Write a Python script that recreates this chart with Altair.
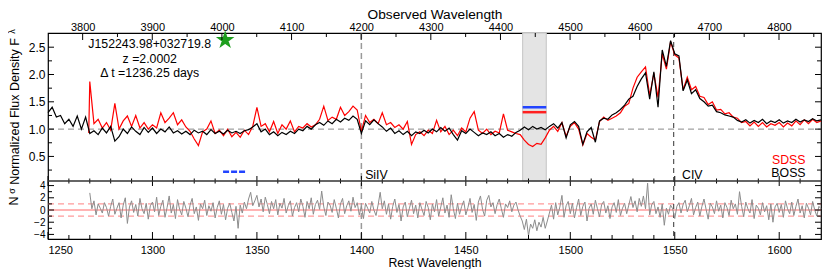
import altair as alt
import numpy as np
import pandas as pd

# ---------------- data ----------------
Z = 2.0002
REST_LO, REST_HI = 1250, 1620
W, H, TOP_H = 773, 206, 148

lam_boss = np.arange(1250, 1621, 2)
flux_boss = [
    1.30, 1.40, 1.22, 1.25, 1.10, 1.18, 1.05, 1.24, 1.00, 1.22,
    0.92, 0.97, 0.90, 1.02, 0.93, 1.05, 0.78, 0.86, 1.00, 0.92,
    1.04, 0.96, 0.90, 1.03, 0.94, 1.02, 0.92, 1.00, 0.95, 1.04,
    0.93, 0.97, 0.91, 0.96, 0.90, 0.98, 0.93, 0.96, 0.90, 0.99,
    0.92, 0.96, 0.91, 0.98, 0.93, 0.96, 0.92, 0.97, 0.99, 1.04,
    1.10, 0.95, 1.00, 0.90, 0.95, 0.88, 0.94, 0.90, 0.96, 0.92,
    1.00, 0.97, 1.05, 1.00, 1.08, 1.12, 1.07, 1.15, 1.10, 1.18,
    1.13, 1.20, 1.16, 1.24, 1.18, 0.92, 1.15, 1.08, 1.17, 1.10,
    1.04, 0.96, 1.02, 0.92, 0.97, 0.90, 0.96, 0.88, 0.95, 0.92,
    0.98, 0.93, 1.00, 0.95, 1.03, 0.96, 1.02, 0.90, 0.80, 0.97,
    0.92, 1.00, 0.94, 0.88, 0.93, 0.90, 0.95, 0.88, 0.92, 0.85,
    0.90, 0.87, 0.94, 0.98, 1.04, 0.99, 1.05, 1.00, 1.03, 0.99,
    1.05, 1.10, 1.02, 1.12, 0.84, 1.08, 1.14, 1.05, 0.72, 0.95,
    1.03, 0.76, 1.15, 1.20, 1.18, 1.26, 1.30, 1.36, 1.44, 1.55,
    1.60, 1.78, 1.92, 2.03, 1.55, 2.05, 1.40, 2.45, 2.15, 2.62,
    2.38, 2.34, 1.70, 1.90, 1.65, 1.72, 1.56, 1.50, 1.42, 1.44,
    1.32, 1.30, 1.26, 1.24, 1.22, 1.16, 1.13, 1.17, 1.11, 1.16,
    1.12, 1.18, 1.10, 1.15, 1.12, 1.17, 1.11, 1.15, 1.12, 1.18,
    1.13, 1.17, 1.14, 1.19, 1.15, 1.17,
]

lam_sdss = [1269.5] + list(np.arange(1270, 1621, 2))
flux_sdss = [
    0.93,
    1.87, 1.10, 1.18, 1.02, 1.12, 0.98, 1.47, 1.00, 1.15, 1.24,
    1.05, 1.25, 1.02, 1.12, 1.00, 1.08, 1.02, 1.30, 1.12, 1.20,
    1.30, 1.08, 1.17, 1.04, 0.96, 0.82, 0.70, 0.95, 1.00, 1.15,
    0.92, 0.98, 0.88, 1.00, 0.86, 0.94, 0.85, 0.98, 0.90, 1.05,
    1.40, 1.05, 1.10, 0.95, 1.14, 0.92, 1.08, 1.00, 1.15, 0.95,
    1.05, 1.02, 1.10, 1.04, 1.08, 1.18, 1.42, 1.16, 1.22, 1.18,
    1.40, 1.25, 1.32, 1.42, 1.35, 0.96, 1.25, 1.12, 1.18, 1.10,
    1.30, 1.08, 1.12, 1.03, 1.08, 1.00, 1.14, 0.72, 0.90, 0.95,
    0.88, 0.98, 0.92, 1.16, 0.95, 1.05, 0.90, 0.98, 0.88, 1.02,
    0.95, 1.20, 1.32, 0.98, 0.92, 1.00, 0.90, 0.96, 0.93, 1.28,
    0.98, 0.95, 0.92, 0.90, 0.80, 0.72, 0.68, 0.74, 0.72, 0.84,
    0.98, 1.05, 0.96, 1.12, 0.87, 1.05, 1.12, 1.00, 0.71, 0.92,
    0.85, 0.80, 1.14, 1.22, 1.16, 1.20, 1.24, 1.30, 1.42, 1.47,
    1.75, 1.95, 2.05, 2.14, 1.62, 2.02, 1.58, 2.38, 2.10, 2.60,
    2.36, 2.30, 1.72, 1.95, 1.72, 1.78, 1.60, 1.58, 1.45, 1.50,
    1.35, 1.36, 1.28, 1.30, 1.22, 1.20, 1.12, 1.14, 1.06, 1.13,
    1.05, 1.12, 1.04, 1.10, 1.07, 1.12, 1.04, 1.11, 1.06, 1.15,
    1.08, 1.17, 1.10, 1.18, 1.12, 1.15,
]

lam_resid = np.arange(1270, 1621, 1)
n_sigma = [
    2.8, 0.2, 1.5, -0.8, 1.0, 0.3, -0.5, 1.2, 0.4, -1.0,
    0.6, 1.8, -0.7, 0.3, 1.2, -1.3, 0.8, 2.0, -2.2, 0.5,
    1.5, -0.4, 0.9, -1.0, 1.9, 0.2, -0.6, 1.1, -1.5, 0.7,
    1.3, -0.3, 2.1, -0.9, 0.6, 1.6, -1.2, 0.4, 2.3, -0.5,
    0.9, -1.4, 1.7, 0.1, -0.8, 1.4, 0.3, -1.1, 0.8, 1.9,
    -0.6, 0.5, -1.7, 1.0, 0.2, 1.6, -0.9, 0.7, -0.2, 1.2,
    -1.3, 0.4, 1.5, -0.7, 0.9, -1.6, 0.3, 1.1, -0.4, -1.8,
    0.6, -3.0, 0.8, -0.5, 1.3, 0.2, 1.8, 2.9, 0.7, 1.5,
    2.4, 0.5, 1.8, -0.3, 2.1, 0.9, -0.6, 1.4, 0.2, 1.7,
    -0.8, 1.1, 0.3, 1.9, -0.5, 0.7, 1.5, -1.0, 0.4, 1.2,
    -0.3, 1.8, 0.6, -1.2, 1.4, 0.2, 2.0, -0.7, 0.9, 1.6,
    0.1, 3.1, 0.5, -0.9, 1.3, 0.8, -0.4, 1.7, 0.3, -1.3,
    1.0, 1.9, -0.6, 0.7, 1.5, -0.2, 2.1, 0.4, 1.2, -0.8,
    0.6, -1.4, 1.1, 0.3, -0.5, 1.4, 0.0, -0.9, 0.8, 2.9,
    0.2, 1.5, -0.7, 1.0, -1.5, 0.6, 1.8, -0.4, 0.9, -1.8,
    0.5, 1.3, -1.1, 0.3, 1.6, -0.6, 0.8, -1.3, 1.2, 0.1,
    -0.9, 1.4, 0.4, -1.6, 1.0, -0.3, 1.7, -1.0, 0.5, 2.0,
    -0.5, 0.8, -1.2, 2.5, 0.2, -1.4, 1.1, -0.7, 0.6, 1.5,
    -0.8, 0.4, 1.9, -0.4, 0.9, -1.7, 1.3, 2.3, 0.1, -1.0,
    1.6, 2.4, 0.5, 1.2, -0.6, 0.9, 1.8, 0.2, -1.2, 1.0,
    0.4, 1.5, -0.3, 0.8, 1.3, 0.0, -1.0, -1.8, -3.2, -1.5,
    -4.2, -2.3, -3.0, -1.6, -3.4, -2.0, -2.8, -1.2, -3.0, -1.8,
    -0.5, 0.8, -1.5, 1.2, -0.8, 0.5, 2.4, -1.2, 0.7, 1.4,
    -0.6, 1.1, -1.3, 0.4, 1.8, -0.9, 0.6, 1.3, -1.8, 0.3,
    1.0, -0.7, 1.6, 0.2, -1.1, 0.9, 1.4, -0.5, 0.7, -1.4,
    0.5, 1.2, -0.4, 1.7, -0.9, 0.3, 1.1, -0.6, 0.8, 2.2,
    0.4, 1.5, -0.3, 1.9, 0.6, 2.3, 0.2, 4.4, -0.8, 0.9,
    1.4, -0.6, 0.5, -1.2, 1.0, -2.5, 0.3, -0.7, 0.8, 0.2,
    -1.4, 0.6, 1.2, -0.5, 0.9, 1.6, -0.3, 0.7, 1.9, -0.8,
    0.4, 1.3, -1.0, 0.6, 1.8, 0.1, -1.5, 1.1, 0.5, -0.6,
    1.5, -0.2, 0.8, -1.3, 1.2, 0.4, -0.9, 1.6, 0.2, 1.0,
    -0.7, 3.0, 0.6, -1.1, 1.3, 0.2, -0.5, 1.7, -1.4, 0.8,
    0.3, -0.8, 1.2, -0.3, 0.7, -1.6, 1.0, -2.0, 0.5, 1.1,
    -0.4, 0.9, -1.2, 1.5, 0.2, -0.6, 1.3, -0.9, 0.6, 1.8,
    -0.5, 0.7, -1.3, 1.1, 0.3, -0.8, 1.4, 0.0, -1.0, 0.6,
    0.2,
]

band = [1477.2, 1488.5]
band_levels = [1.40, 1.31]          # blue, red bars
line_rest = [1400.0, 1549.5]        # SiIV, CIV
star_pos = [1334.8, 2.63]
blue_dash = [1333.8, 1344.4, 0.22]

info_text = ["J152243.98+032719.8", "z =2.0002", "\u0394 t =1236.25 days"]
info_lam = [1298.7, 1298.7, 1298.7]
info_f = [2.478, 2.203, 1.958]

rest_ticks = list(range(1250, 1601, 50))
rest_minor = [v for v in range(1260, 1620, 10) if v % 50]
obs_ticks = list(range(3800, 4801, 100))
obs_minor = list(range(3850, 4851, 100))
f_ticks = [0.5, 1.0, 1.5, 2.0, 2.5]
f_minor = [0.25, 0.75, 1.25, 1.75, 2.25]
n_ticks = [-4, -2, 0, 2, 4]
n_minor = [-3, -1, 1, 3]

# ---------------- scales ----------------
XS = alt.Scale(domain=[REST_LO, REST_HI], nice=False, zero=False)
XO = alt.Scale(domain=[REST_LO * (1 + Z), REST_HI * (1 + Z)], nice=False, zero=False)
YF = alt.Scale(domain=[0.05, 2.76], range=[TOP_H, 0], nice=False, zero=False)
YN = alt.Scale(domain=[-4.75, 4.75], range=[H, TOP_H], nice=False, zero=False)

FONT = "Liberation Sans"


def X(f, axis=None, scale=XS):
    return alt.X(f, type="quantitative", scale=scale, axis=axis)


def YFf(f, axis=None):
    return alt.Y(f, type="quantitative", scale=YF, axis=axis)


def YNf(f, axis=None):
    return alt.Y(f, type="quantitative", scale=YN, axis=axis)


layers = []

# gray band (top panel)
layers.append(alt.Chart(pd.DataFrame({"a": [band[0]], "b": [band[1]]})).mark_rect(
    fill="#e4e4e4", stroke="#c4c4c4", strokeWidth=1).encode(
    x=X("a"), x2="b", y=alt.value(0), y2=alt.value(TOP_H)))

# horizontal dashed at 1.0
layers.append(alt.Chart(pd.DataFrame({"f": [1.0]})).mark_rule(
    color="#8a8a8a", strokeDash=[6, 4], strokeWidth=1).encode(
    y=YFf("f"), x=alt.value(0), x2=alt.value(W)))

# bottom panel: 0 and +-1 lines
layers.append(alt.Chart(pd.DataFrame({"n": [0.0]})).mark_rule(
    color="#ff6a6a", strokeWidth=1).encode(y=YNf("n"), x=alt.value(0), x2=alt.value(W)))
layers.append(alt.Chart(pd.DataFrame({"n": [-1.0, 1.0]})).mark_rule(
    color="#ff9a9a", strokeDash=[6, 4], strokeWidth=1.2).encode(
    y=YNf("n"), x=alt.value(0), x2=alt.value(W)))

# vertical line markers
layers.append(alt.Chart(pd.DataFrame({"l": [line_rest[0]]})).mark_rule(
    color="#9a9a9a", strokeDash=[6, 4], strokeWidth=1.5).encode(
    x=X("l"), y=alt.value(0), y2=alt.value(H)))
layers.append(alt.Chart(pd.DataFrame({"l": [line_rest[1]]})).mark_rule(
    color="#333333", strokeDash=[5, 4], strokeWidth=1).encode(
    x=X("l"), y=alt.value(0), y2=alt.value(H)))

# residual line
layers.append(alt.Chart(pd.DataFrame({"lam": lam_resid, "n": n_sigma})).mark_line(
    color="#8c8c8c", strokeWidth=1).encode(
    x=X("lam"),
    y=YNf("n", axis=alt.Axis(orient="left", values=n_ticks, format="d", ticks=False,
                             domain=False, grid=False, labelFontSize=10, labelPadding=3,
                             title="N", titleFontSize=12.5, titleFontWeight="normal",
                             titleAngle=270, titleX=-31, titleY=167.5,
                             titleAlign="center", titleBaseline="alphabetic"))))

# spectra
layers.append(alt.Chart(pd.DataFrame({"lam": lam_sdss, "f": flux_sdss})).mark_line(
    color="#ff0000", strokeWidth=1.2).encode(x=X("lam"), y=YFf("f")))
layers.append(alt.Chart(pd.DataFrame({"lam": lam_boss, "f": flux_boss})).mark_line(
    color="#000000", strokeWidth=1.2).encode(
    x=X("lam", axis=alt.Axis(orient="bottom", values=rest_ticks, format="d", ticks=False,
                             domain=False, grid=False, labelFontSize=11, labelPadding=5,
                             title="Rest Wavelength", titleFontSize=12.3,
                             titleFontWeight="normal", titleY=27,
                             titleBaseline="alphabetic")),
    y=YFf("f", axis=alt.Axis(orient="left", values=f_ticks, format=".1f", ticks=False,
                             domain=False, grid=False, labelFontSize=12, labelPadding=3,
                             title="Normalized Flux Density F", titleFontSize=12.5,
                             titleFontWeight="normal", titleAngle=270, titleX=-30,
                             titleY=78, titleAlign="center",
                             titleBaseline="alphabetic"))))

# blue/red bars in the band
layers.append(alt.Chart(pd.DataFrame({"a": [band[0]], "b": [band[1]], "f": [band_levels[0]]}))
              .mark_rule(color="#2244ff", strokeWidth=2.5).encode(x=X("a"), x2="b", y=YFf("f")))
layers.append(alt.Chart(pd.DataFrame({"a": [band[0]], "b": [band[1]], "f": [band_levels[1]]}))
              .mark_rule(color="#ff2020", strokeWidth=2.5).encode(x=X("a"), x2="b", y=YFf("f")))

# blue dashed segment
layers.append(alt.Chart(pd.DataFrame({"a": [blue_dash[0]], "b": [blue_dash[1]], "f": [blue_dash[2]]}))
              .mark_rule(color="#2244ff", strokeWidth=2.5, strokeDash=[6, 2]).encode(
    x=X("a"), x2="b", y=YFf("f")))

# green star
STAR = ("M0,-1L0.2245,-0.309L0.951,-0.309L0.363,0.118L0.588,0.809L0,0.382"
        "L-0.588,0.809L-0.363,0.118L-0.951,-0.309L-0.2245,-0.309Z")
layers.append(alt.Chart(pd.DataFrame({"lam": [star_pos[0]], "f": [star_pos[1]]})).mark_point(
    shape=STAR, filled=True, fill="#1e9e1e", stroke="#1e9e1e", size=170, opacity=1).encode(
    x=X("lam"), y=YFf("f")))

# info texts
layers.append(alt.Chart(pd.DataFrame({"lam": info_lam, "f": info_f, "t": info_text})).mark_text(
    align="center", baseline="alphabetic", fontSize=12.3, font=FONT, color="black").encode(
    x=X("lam"), y=YFf("f"), text="t:N"))

# line labels
layers.append(alt.Chart(pd.DataFrame({"lam": [1401.8, 1553.5], "f": [0.084, 0.084],
                                      "t": ["SiIV", "CIV"]})).mark_text(
    align="left", baseline="alphabetic", fontSize=12.3, font=FONT, color="black").encode(
    x=X("lam"), y=YFf("f"), text="t:N"))

# legend texts
layers.append(alt.Chart(pd.DataFrame({"lam": [1612.6], "f": [0.37], "t": ["SDSS"]})).mark_text(
    align="right", baseline="alphabetic", fontSize=12.3, font=FONT, color="#ff0000").encode(
    x=X("lam"), y=YFf("f"), text="t:N"))
layers.append(alt.Chart(pd.DataFrame({"lam": [1612.6], "f": [0.127], "t": ["BOSS"]})).mark_text(
    align="right", baseline="alphabetic", fontSize=12.3, font=FONT, color="black").encode(
    x=X("lam"), y=YFf("f"), text="t:N"))

# top (observed) axis with inward ticks
layers.append(alt.Chart(pd.DataFrame({"v": obs_ticks})).mark_rule(color="black", strokeWidth=1).encode(
    x=X("v", scale=XO, axis=alt.Axis(orient="top", values=obs_ticks, format="d", ticks=False,
                                     domain=False, grid=False, labelFontSize=11, labelPadding=1,
                                     title="Observed Wavelength", titleFontSize=13.7,
                                     titleFontWeight="normal", titleY=-15,
                                     titleBaseline="alphabetic")),
    y=alt.value(0), y2=alt.value(7)))
layers.append(alt.Chart(pd.DataFrame({"v": obs_minor})).mark_rule(color="black", strokeWidth=1).encode(
    x=X("v", scale=XO), y=alt.value(0), y2=alt.value(4)))

# rest ticks: middle separator and bottom axis
layers.append(alt.Chart(pd.DataFrame({"v": rest_ticks})).mark_rule(color="black", strokeWidth=1).encode(
    x=X("v"), y=alt.value(TOP_H - 5), y2=alt.value(TOP_H + 5)))
layers.append(alt.Chart(pd.DataFrame({"v": rest_minor})).mark_rule(color="black", strokeWidth=1).encode(
    x=X("v"), y=alt.value(TOP_H - 2.5), y2=alt.value(TOP_H + 2.5)))
layers.append(alt.Chart(pd.DataFrame({"v": rest_ticks})).mark_rule(color="black", strokeWidth=1).encode(
    x=X("v"), y=alt.value(H - 7), y2=alt.value(H)))
layers.append(alt.Chart(pd.DataFrame({"v": rest_minor})).mark_rule(color="black", strokeWidth=1).encode(
    x=X("v"), y=alt.value(H - 4), y2=alt.value(H)))

# separator line between panels
layers.append(alt.Chart(pd.DataFrame({"k": [0]})).mark_rule(color="#333333", strokeWidth=1.5).encode(
    x=alt.value(0), x2=alt.value(W), y=alt.value(TOP_H)))

# y ticks (left and right), flux panel
for vals, ln in ((f_ticks, 6), (f_minor, 4)):
    df = pd.DataFrame({"v": vals})
    layers.append(alt.Chart(df).mark_rule(color="black").encode(
        y=YFf("v"), x=alt.value(0), x2=alt.value(ln)))
    layers.append(alt.Chart(df).mark_rule(color="black").encode(
        y=YFf("v"), x=alt.value(W - ln), x2=alt.value(W)))
for vals, ln in ((n_ticks, 6), (n_minor, 4)):
    df = pd.DataFrame({"v": vals})
    layers.append(alt.Chart(df).mark_rule(color="black").encode(
        y=YNf("v"), x=alt.value(0), x2=alt.value(ln)))
    layers.append(alt.Chart(df).mark_rule(color="black").encode(
        y=YNf("v"), x=alt.value(W - ln), x2=alt.value(W)))

# subscripts of the y titles
layers.append(alt.Chart(pd.DataFrame({"t": ["\u03bb"]})).mark_text(
    angle=270, fontSize=9, font=FONT, align="center", baseline="alphabetic", color="black").encode(
    x=alt.value(-33.5), y=alt.value(-1.5), text="t:N"))
layers.append(alt.Chart(pd.DataFrame({"t": ["\u03c3"]})).mark_text(
    angle=270, fontSize=9, font=FONT, align="center", baseline="alphabetic", color="black").encode(
    x=alt.value(-33), y=alt.value(158), text="t:N"))

chart = alt.layer(*layers).resolve_scale(x="independent", y="independent").properties(
    width=W, height=H,
    autosize=alt.AutoSizeParams(type="none"),
    padding={"left": 40, "top": 25, "right": 1, "bottom": 30},
).configure_view(stroke="black", strokeWidth=1.2).configure_axis(
    labelFont=FONT, titleFont=FONT, labelColor="black", titleColor="black"
).configure_text(font=FONT)

chart.save("out.html", embed_options={"renderer": "svg", "actions": False})
